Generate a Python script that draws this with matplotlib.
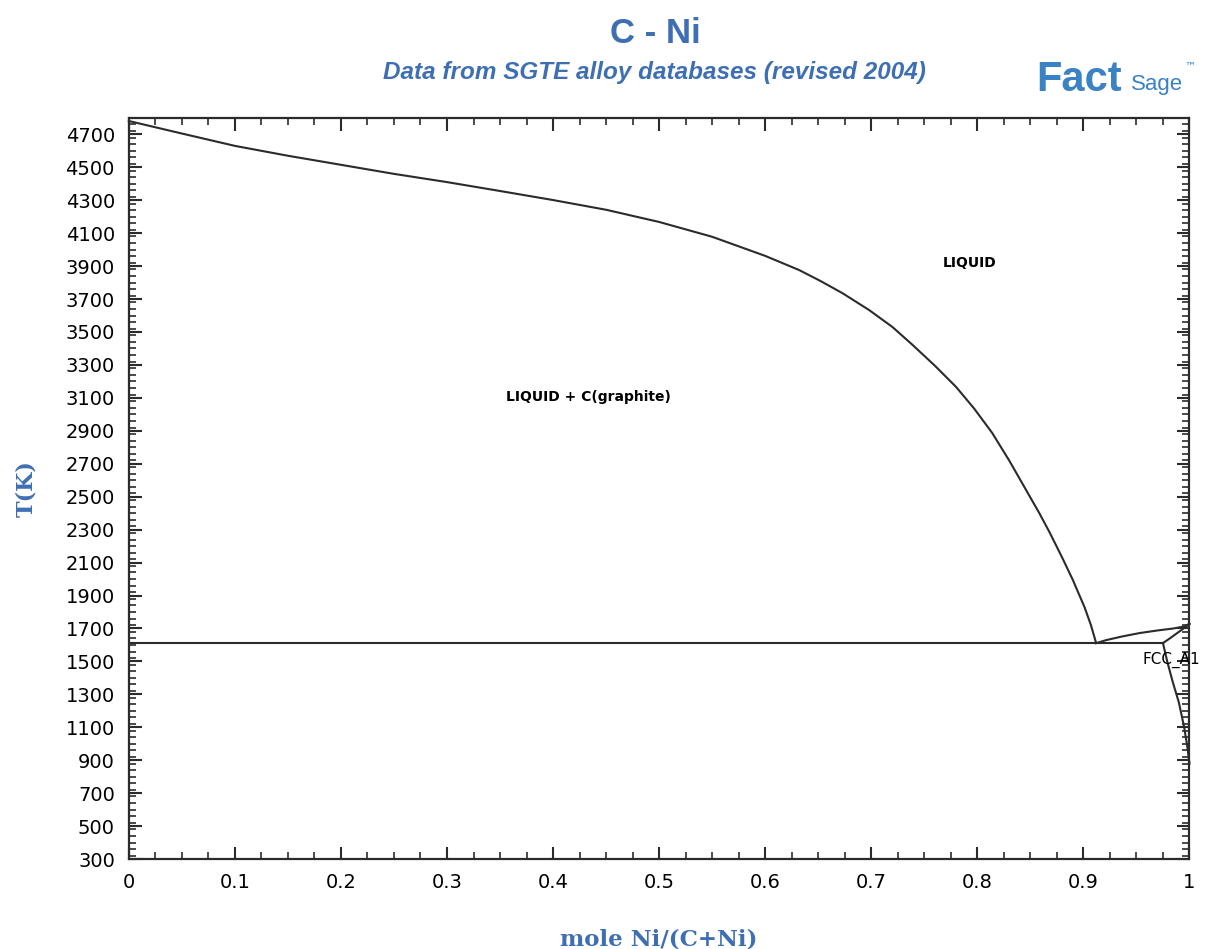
import matplotlib
matplotlib.use("Agg")
import matplotlib.pyplot as plt
from matplotlib.ticker import MultipleLocator, FixedLocator

# liquidus, graphite side (mole fraction Ni, T in K)
liq_x = [0.0, 0.05, 0.1, 0.15, 0.2, 0.25, 0.3, 0.35, 0.4, 0.45, 0.5, 0.55,
         0.6, 0.632, 0.652, 0.673, 0.698, 0.72, 0.739, 0.76, 0.780, 0.797,
         0.814, 0.830, 0.846, 0.858, 0.868, 0.880, 0.890, 0.901, 0.907, 0.912]
liq_T = [4781, 4705, 4630, 4570, 4515, 4460, 4410, 4356, 4301, 4242, 4168, 4078,
         3962, 3876, 3810, 3735, 3633, 3530, 3421, 3295, 3166, 3035,
         2887, 2720, 2540, 2405, 2285, 2130, 1995, 1830, 1722, 1611]

# liquidus, Ni side
liq2_x = [0.912, 0.922, 0.937, 0.953, 0.970, 0.985, 0.995, 1.0]
liq2_T = [1611, 1630, 1652, 1672, 1688, 1700, 1712, 1728]

# solidus of FCC
sol_x = [0.975, 0.982, 0.988, 0.994, 1.0]
sol_T = [1611, 1642, 1670, 1698, 1728]

# solvus of FCC
solv_x = [0.975, 0.979, 0.984, 0.990, 0.995, 0.998, 1.0]
solv_T = [1611, 1500, 1380, 1250, 1100, 980, 880]

# eutectic line
eut_x = [0.0, 0.975]
eut_T = [1611, 1611]

y_ticks = list(range(300, 4701, 200))
x_ticks = [i / 10 for i in range(11)]
x_labels = ["0"] + ["%.1f" % (i / 10) for i in range(1, 10)] + ["1"]
blue = "#3f6fb3"
ink = "#2b2b2b"

fig = plt.figure(figsize=(12.15, 9.49), dpi=100)
ax = fig.add_axes([0.106, 0.0948, 0.873, 0.781])

for xs, ts in [(liq_x, liq_T), (liq2_x, liq2_T), (sol_x, sol_T), (solv_x, solv_T), (eut_x, eut_T)]:
    ax.plot(xs, ts, color=ink, lw=1.5, clip_on=False, solid_joinstyle="round")

ax.set_xlim(0, 1)
ax.set_ylim(300, 4800)
ax.set_xticks(x_ticks)
ax.set_xticklabels(x_labels)
ax.xaxis.set_minor_locator(MultipleLocator(0.025))
ax.yaxis.set_major_locator(FixedLocator(y_ticks))
ax.yaxis.set_minor_locator(MultipleLocator(40))
ax.tick_params(which="both", direction="in", top=True, right=True, color=ink)
ax.tick_params(which="major", length=9, width=1.5, labelsize=14, pad=10)
ax.tick_params(which="minor", length=5, width=1.2)
for s in ax.spines.values():
    s.set_linewidth(1.6)
    s.set_color(ink)

ax.text(0.793, 3919, "LIQUID", fontsize=10, fontweight="bold", ha="center", va="center")
ax.text(0.433, 3105, "LIQUID + C(graphite)", fontsize=10, fontweight="bold", ha="center", va="center")
ax.text(0.956, 1508, "FCC_A1", fontsize=11, ha="left", va="center", clip_on=False)

ax.set_ylabel("T(K)", family="DejaVu Serif", fontweight="bold", color=blue, fontsize=16, labelpad=20)
ax.set_xlabel("mole Ni/(C+Ni)", family="DejaVu Serif", fontweight="bold", color=blue, fontsize=16.5, labelpad=26)

fig.text(0.539, 0.982, "C - Ni", ha="center", va="top", fontsize=25, fontweight="bold", color=blue,
         family="Liberation Sans")
fig.text(0.539, 0.924, "Data from SGTE alloy databases (revised 2004)", ha="center", va="center",
         fontsize=17.5, fontweight="bold", style="italic", color=blue, family="Liberation Sans")
fig.text(0.853, 0.916, "Fact", ha="left", va="center", fontsize=30, fontweight="heavy", color="#3a82c4",
         family="Liberation Sans")
fig.text(0.931, 0.911, "Sage", ha="left", va="center", fontsize=16, color="#3a82c4",
         family="Liberation Sans")
fig.text(0.975, 0.930, "\u2122", ha="left", va="center", fontsize=8, color="#3a82c4")

fig.savefig("out.png", dpi=100)
